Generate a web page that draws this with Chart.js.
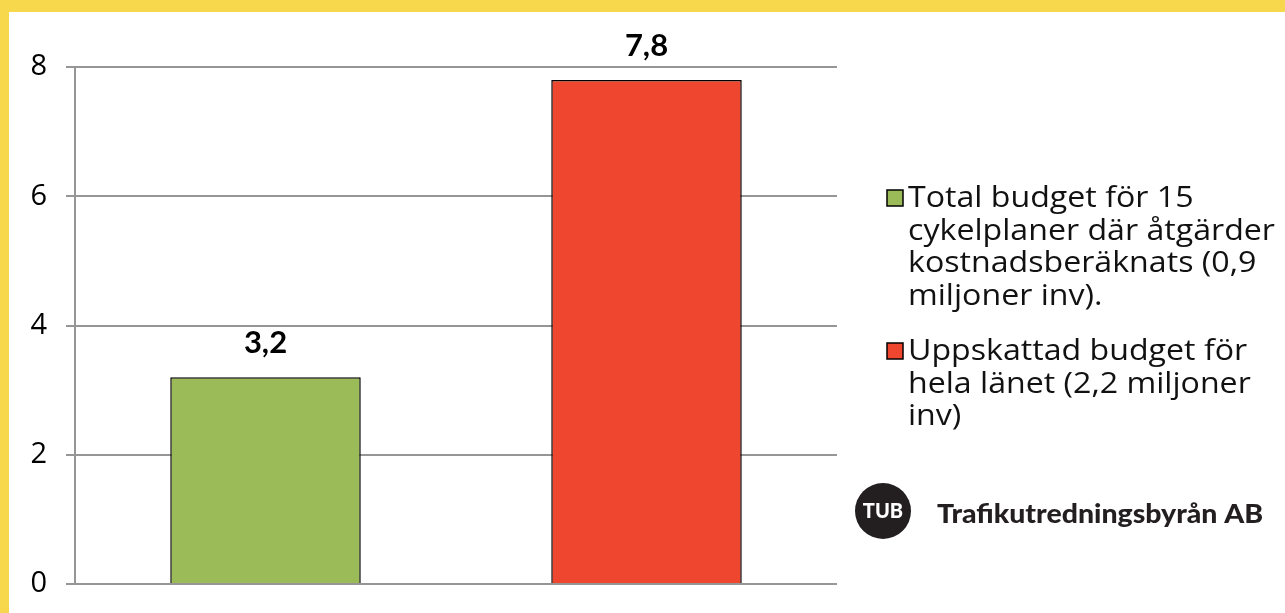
<!DOCTYPE html>
<html>
<head>
<meta charset="utf-8">
<script src="https://cdn.jsdelivr.net/npm/chart.js@4"></script>
<style>
  html, body { margin: 0; padding: 0; }
  body { background: #F7D84C; width: 1285px; height: 613px; overflow: hidden; }
  #panel { position: absolute; left: 9px; top: 12px; width: 1276px; height: 601px; background: #fff; }
</style>
</head>
<body>
<div id="panel"><canvas id="budgetChart"></canvas></div>
<script>
// values in miljarder kr
var categories = ['Total budget', 'Uppskattad budget'];
var totalBudget = [3.2, null];
var estimatedBudget = [null, 7.8];
var yTicks = [0, 2, 4, 6, 8];
var legendLines = [
    ['Total budget för 15', 'cykelplaner där åtgärder', 'kostnadsberäknats (0,9', 'miljoner inv).'],
    ['Uppskattad budget för', 'hela länet (2,2 miljoner', 'inv)']
];
var colors = ['#9BBB59', '#EE462F'];

var FONT = '"Open Sans", Lato, sans-serif';
var BOLD = 'Lato, "Open Sans", sans-serif';

// draw text squeezed/stretched horizontally by factor sx
function wideText(ctx, text, x, y, sx) {
    ctx.save();
    ctx.translate(x, y);
    ctx.scale(sx, 1);
    ctx.fillText(text, 0, 0);
    ctx.restore();
}

var valueLabels = {
    id: 'valueLabels',
    afterDatasetsDraw: function(chart) {
        var ctx = chart.ctx;
        ctx.save();
        ctx.font = 'bold 31px ' + BOLD;
        ctx.fillStyle = '#000';
        ctx.textAlign = 'center';
        ctx.textBaseline = 'alphabetic';
        chart.data.datasets.forEach(function(ds, i) {
            chart.getDatasetMeta(i).data.forEach(function(bar, j) {
                if (ds.data[j] == null) return;
                ctx.fillText(String(ds.data[j]).replace('.', ','), bar.x, bar.y - 24);
            });
        });
        ctx.restore();
    }
};

var sideLegend = {
    id: 'sideLegend',
    afterDraw: function(chart) {
        var ctx = chart.ctx;
        ctx.save();
        var x = chart.chartArea.right + 50;
        var y = 195;
        ctx.font = '29px ' + FONT;
        ctx.textBaseline = 'alphabetic';
        var sx = 367 / ctx.measureText(legendLines[0][1]).width;
        legendLines.forEach(function(lines, i) {
            ctx.fillStyle = colors[i];
            ctx.fillRect(x, y - 17, 16, 16);
            ctx.strokeStyle = '#000';
            ctx.lineWidth = 1.5;
            ctx.strokeRect(x, y - 17, 16, 16);
            ctx.fillStyle = '#111';
            lines.forEach(function(line, k) {
                wideText(ctx, line, x + 21, y + k * 32.5, sx);
            });
            y += lines.length * 32.5 + 23;
        });

        // logo
        var cx = x - 4, cy = 499;
        ctx.fillStyle = '#231f20';
        ctx.beginPath();
        ctx.arc(cx, cy, 28, 0, Math.PI * 2);
        ctx.fill();
        ctx.fillStyle = '#fff';
        ctx.textAlign = 'center';
        ctx.font = '900 20px ' + BOLD;
        ctx.fillText('TUB', cx, cy + 7);
        ctx.textAlign = 'left';
        ctx.fillStyle = '#231f20';
        ctx.font = '900 27px ' + BOLD;
        var logoText = 'Trafikutredningsbyrån AB';
        wideText(ctx, logoText, cx + 54, cy + 12, 326 / ctx.measureText(logoText).width);
        ctx.restore();
    }
};

new Chart(document.getElementById('budgetChart'), {
    type: 'bar',
    data: {
        labels: categories,
        datasets: [{
            label: legendLines[0].join(' '),
            data: totalBudget,
            backgroundColor: colors[0],
            borderColor: '#000',
            borderWidth: 1.5,
            grouped: false,
            barPercentage: 0.5,
            categoryPercentage: 1
        }, {
            label: legendLines[1].join(' '),
            data: estimatedBudget,
            backgroundColor: colors[1],
            borderColor: '#000',
            borderWidth: 1.5,
            grouped: false,
            barPercentage: 0.5,
            categoryPercentage: 1
        }]
    },
    options: {
        responsive: true,
        maintainAspectRatio: false,
        animation: false,
        layout: { padding: { left: 0, right: 448, top: 55, bottom: 29 } },
        plugins: {
            legend: { display: false },
            tooltip: { enabled: false }
        },
        scales: {
            x: { display: false },
            y: {
                min: 0,
                max: 8,
                afterFit: function(scale) {
                    scale.width = 66;
                    scale.paddingTop = 0;
                    scale.paddingBottom = 0;
                },
                afterBuildTicks: function(scale) {
                    scale.ticks = yTicks.map(function(v) { return { value: v }; });
                },
                grid: { color: '#969696', lineWidth: 2, tickLength: 9 },
                border: { color: '#969696', width: 2 },
                ticks: {
                    padding: 19,
                    color: '#000',
                    font: { family: FONT, size: 29 }
                }
            }
        }
    },
    plugins: [valueLabels, sideLegend]
});
</script>
</body>
</html>
